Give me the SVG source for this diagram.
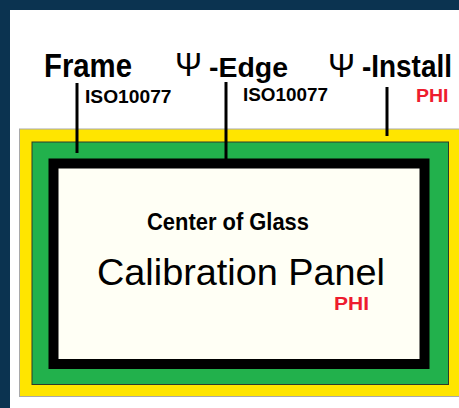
<svg xmlns="http://www.w3.org/2000/svg" width="459" height="408" viewBox="0 0 459 408">
  <style>
    .lbl { font-family: "Liberation Sans", Arial, sans-serif; fill: #000; }
    .big { font-weight: bold; }
    .sub { font-weight: bold; font-size: 19px; }
    .red { fill: #ee1c2e; }
    .psi { font-family: "Liberation Sans", "DejaVu Sans", sans-serif; font-size: 33px; fill: #000; }
    .lead { stroke: #000; stroke-width: 3; fill: none; }
  </style>
  <rect x="0" y="0" width="459" height="408" fill="#0b3350"/>
  <rect x="10" y="10" width="449" height="398" fill="#ffffff"/>

  <g id="install-zone">
    <rect x="19.5" y="129" width="445" height="267.5" fill="#ffe500" stroke="#a9a9a9" stroke-width="1"/>
  </g>
  <g id="edge-zone">
    <rect x="32" y="142" width="416.5" height="242.5" fill="#22b14c" stroke="#2e3a2a" stroke-width="1"/>
  </g>
  <g id="frame">
    <rect x="53.5" y="163.5" width="371" height="200.5" fill="#fffff5" stroke="#000" stroke-width="10"/>
  </g>
  <g id="center-of-glass">
    <text class="lbl big" x="147" y="230" font-size="24" textLength="162" lengthAdjust="spacingAndGlyphs">Center of Glass</text>
    <text class="lbl" x="97" y="285" font-size="37" textLength="288" lengthAdjust="spacingAndGlyphs">Calibration Panel</text>
    <text class="lbl sub red" x="334" y="310" textLength="35" lengthAdjust="spacingAndGlyphs">PHI</text>
  </g>

  <g id="connectors">
    <line class="lead" x1="77" y1="83" x2="77" y2="153"/>
    <line class="lead" x1="226" y1="82" x2="226" y2="159"/>
    <line class="lead" x1="387" y1="87" x2="387" y2="136"/>
  </g>

  <g id="label-frame">
    <text class="lbl big" x="44" y="77" font-size="33" textLength="88" lengthAdjust="spacingAndGlyphs">Frame</text>
    <text class="lbl sub" x="85" y="103.3" textLength="86.5" lengthAdjust="spacingAndGlyphs">ISO10077</text>
  </g>
  <g id="label-edge">
    <text class="psi" x="175" y="76" textLength="27" lengthAdjust="spacingAndGlyphs">Ψ</text>
    <text class="lbl big" x="209" y="77" font-size="28" textLength="79" lengthAdjust="spacingAndGlyphs">-Edge</text>
    <text class="lbl sub" x="243" y="100.5" textLength="85" lengthAdjust="spacingAndGlyphs">ISO10077</text>
  </g>
  <g id="label-install">
    <text class="psi" x="328" y="77" textLength="27" lengthAdjust="spacingAndGlyphs">Ψ</text>
    <text class="lbl big" transform="translate(362,77.3) scale(0.9,1)" x="0" y="0" font-size="31">-Install</text>
    <text class="lbl sub red" x="416" y="102.3" textLength="32.5" lengthAdjust="spacingAndGlyphs">PHI</text>
  </g>
</svg>
